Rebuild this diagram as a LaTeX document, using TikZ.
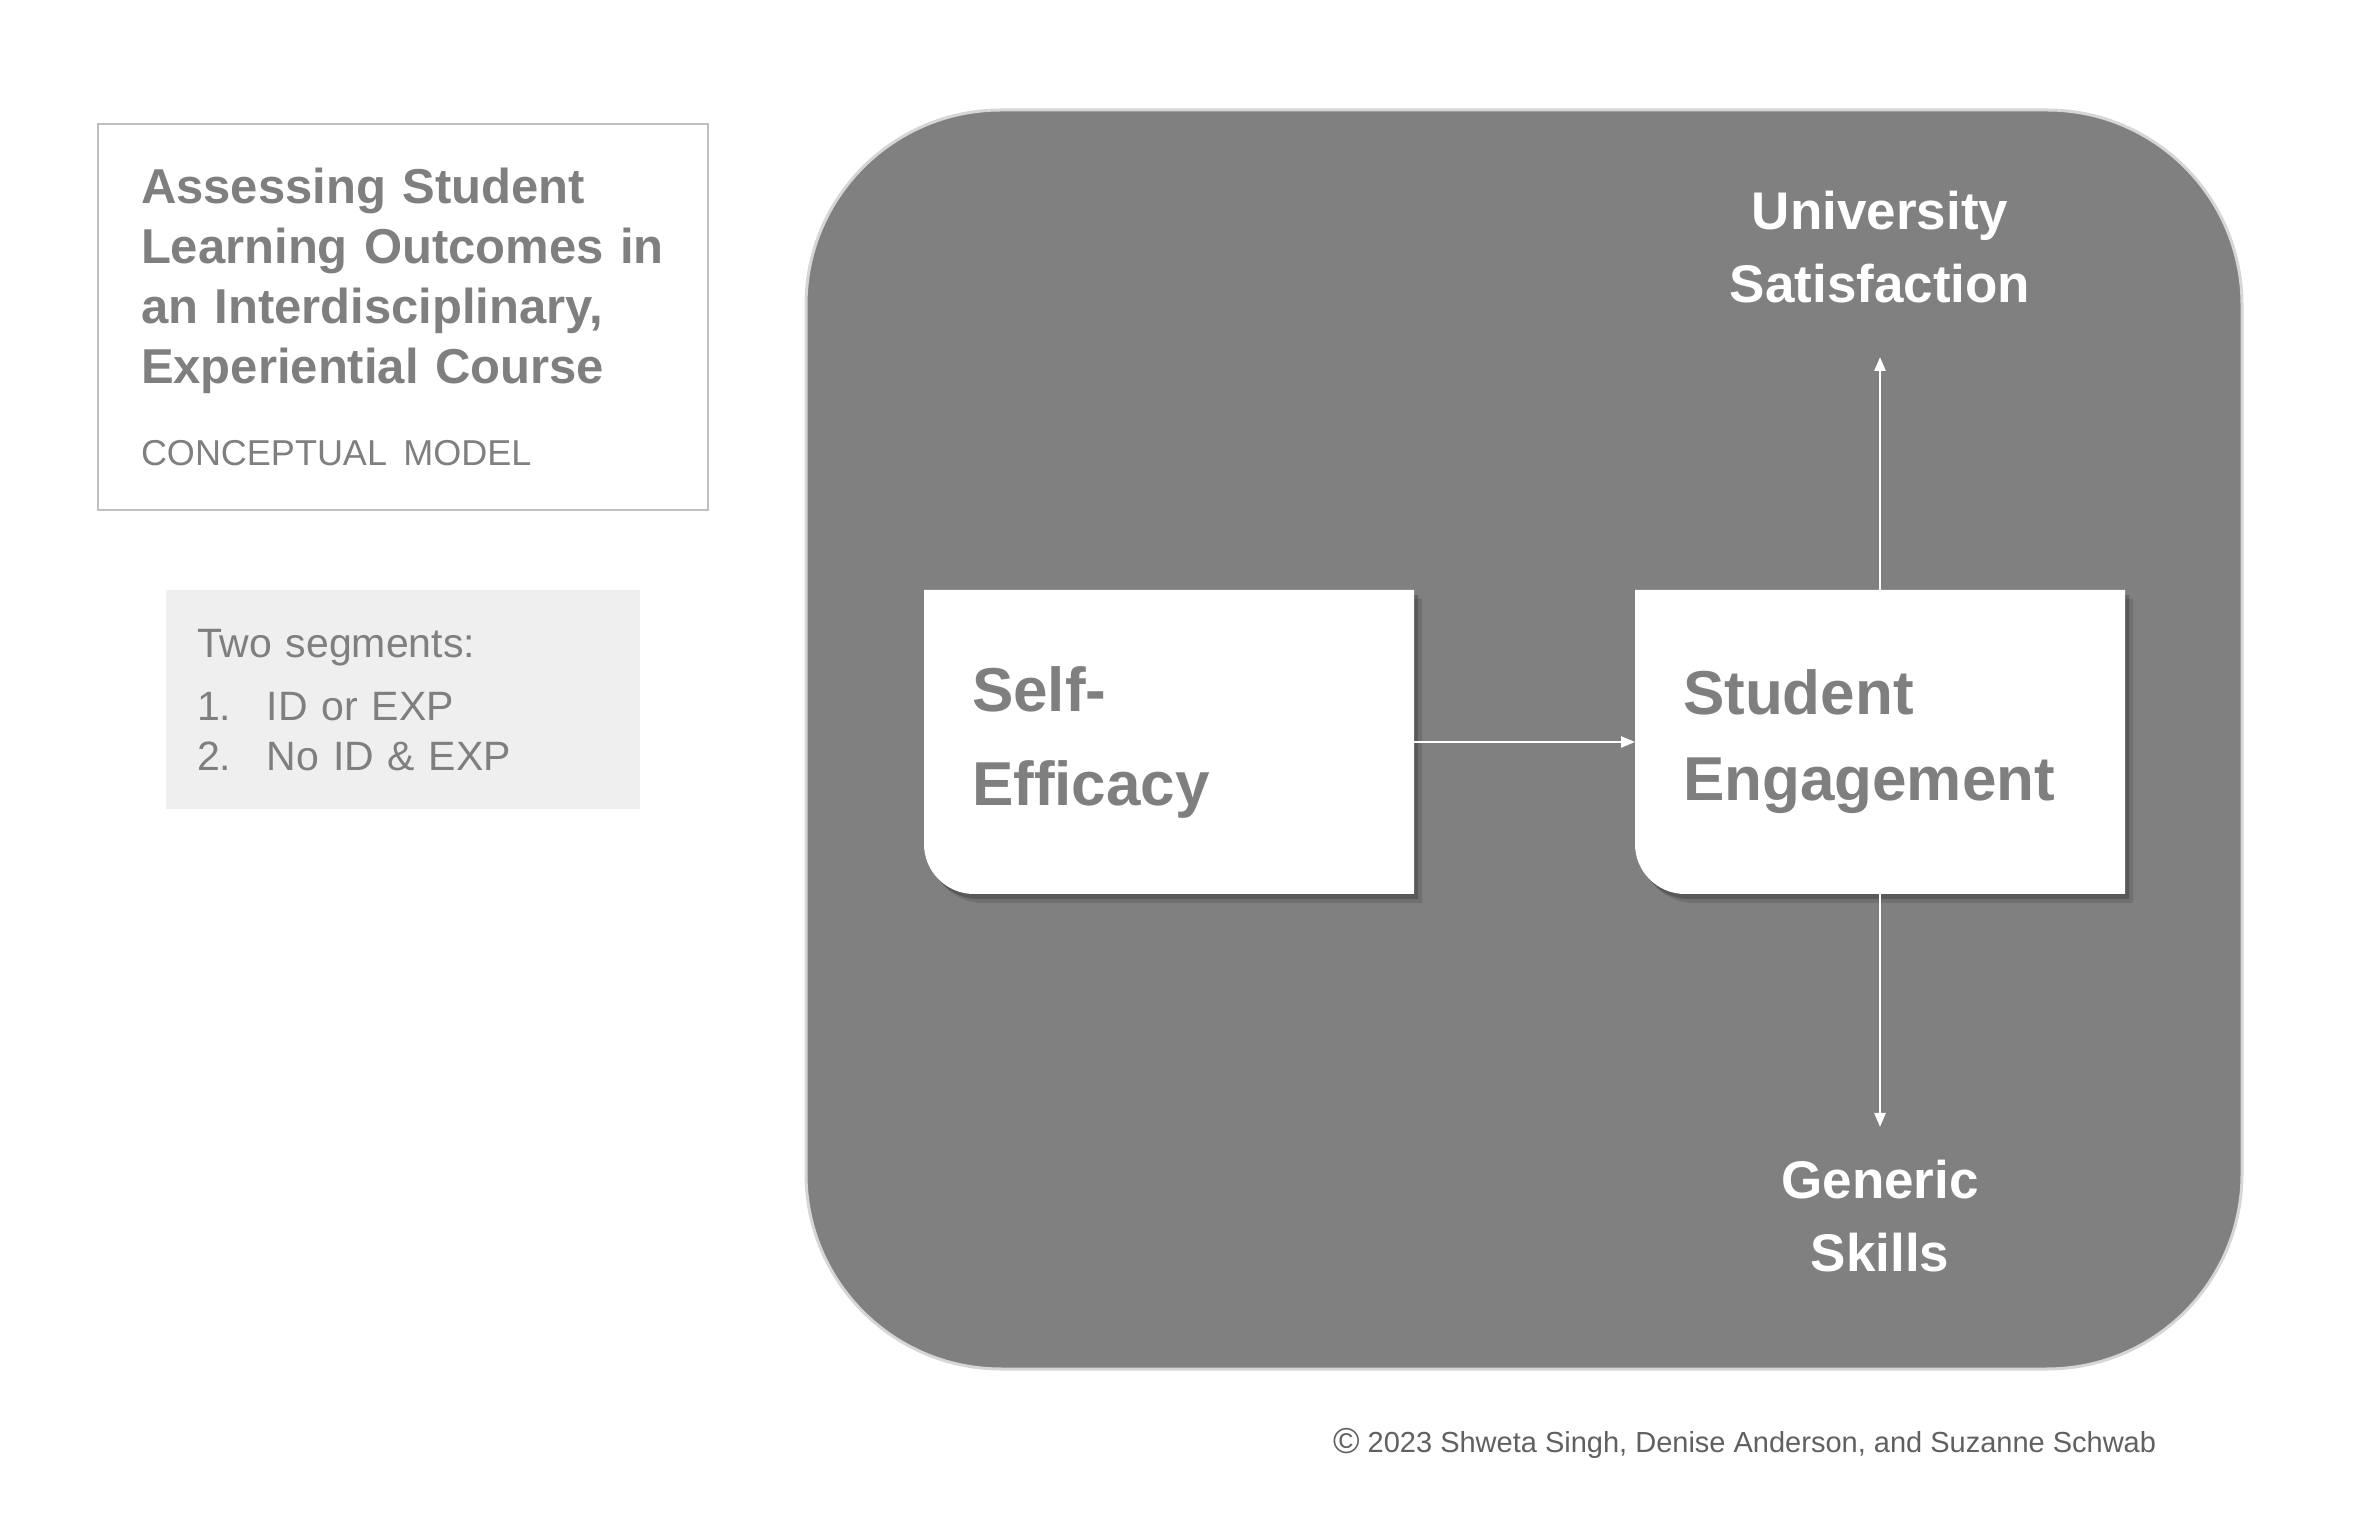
\documentclass[tikz,border=0pt]{standalone}
\usepackage{fontspec}
\setmainfont{Liberation Sans}
\usetikzlibrary{positioning,arrows.meta,shadows}
\definecolor{txtgray}{HTML}{7F7F7F}
\definecolor{panelgray}{HTML}{808080}
\definecolor{panelline}{HTML}{D6D6D6}
\definecolor{boxline}{HTML}{BFBFBF}
\definecolor{segfill}{HTML}{EFEFEF}
\definecolor{copygray}{HTML}{606060}
\pgfdeclarelayer{bg}
\pgfdeclarelayer{mid}
\pgfsetlayers{bg,mid,main}

\begin{document}
\begin{tikzpicture}[x=1pt, y=1pt, >={Triangle[length=14pt,width=11pt]},
    titlebox/.style={draw=boxline, line width=2.5pt, minimum width=610pt, minimum height=386pt,
        inner xsep=43pt, text width=524pt, align=left, text=txtgray, font=\fontsize{49}{60}\selectfont},
    segbox/.style={fill=segfill, minimum width=474pt, minimum height=219pt,
        inner xsep=31pt, text width=412pt, align=left, text=txtgray, font=\fontsize{41}{50}\selectfont},
    cardtext/.style={minimum width=490pt, minimum height=304pt, outer sep=0pt,
        inner xsep=48pt, text width=394pt, align=left, text=txtgray,
        font=\fontsize{62}{#1}\selectfont\bfseries},
    card/.style={fill=white,
        drop shadow={shadow xshift=8pt, shadow yshift=-9pt, opacity=0.12, fill=black},
        drop shadow={shadow xshift=4pt, shadow yshift=-5pt, opacity=0.2, fill=black}},
    outlabel/.style={inner sep=0pt, align=center, text=white, font=\fontsize{53}{73}\selectfont\bfseries},
    flow/.style={->, draw=white, line width=2.5pt}]
    \useasboundingbox (0,0) rectangle (2372,1532);

    % left side
    \node (title) [titlebox] at (403,1215) {{\bfseries Assessing Student\\Learning Outcomes in\\an Interdisciplinary,\\Experiential Course}\\[22pt]{\fontsize{36}{44}\selectfont CONCEPTUAL MODEL}};
    \node (seg) [segbox, below=79pt of title] {Two segments:\\[13pt]\makebox[70pt][l]{1.}ID or EXP\\\makebox[70pt][l]{2.}No ID \& EXP};

    % model panel
    \begin{pgfonlayer}{bg}
        \filldraw[fill=panelgray, draw=panelline, line width=3pt, rounded corners=195pt] (806,163) rectangle (2242,1422);
    \end{pgfonlayer}

    \node (eff) [cardtext=94pt] at (1169,790) {Self-\\Efficacy};
    \node (eng) [cardtext=86pt, right=221pt of eff] {Student\\Engagement};
    \node (sat) [outlabel, outer ysep=54pt, above=233pt of eng] {University\\Satisfaction};
    \node (gen) [outlabel, outer ysep=33pt, below=233pt of eng] {Generic\\Skills};

    \begin{pgfonlayer}{mid}
        \foreach \n in {eff,eng}
            \fill[card] (\n.north west) -- (\n.north east) -- (\n.south east)
                -- ([xshift=50pt]\n.south west) arc[start angle=270, end angle=180, radius=50pt] -- cycle;
    \end{pgfonlayer}

    \draw[flow] (eff.east) -- (eng.west);
    \draw[flow] (eng.north) -- (sat.south);
    \draw[flow] (eng.south) -- (gen.north);

    \node (copy) [anchor=base west, inner sep=0pt, text=copygray, font=\fontsize{29}{35}\selectfont] at (1333,80)
        {\raisebox{-1pt}{\fontsize{36}{36}\selectfont\textcopyright}\hspace{8pt}2023 Shweta Singh, Denise Anderson, and Suzanne Schwab};
\end{tikzpicture}
\end{document}
